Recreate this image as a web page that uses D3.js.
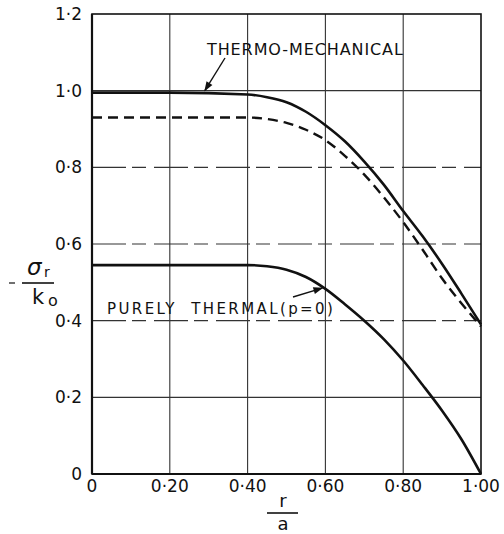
<!DOCTYPE html>
<html>
<head>
<meta charset="utf-8">
<script src="https://cdn.jsdelivr.net/npm/d3@7"></script>
<style>
  body { margin: 0; background: #fff; }
  svg { display: block; }
  text { font-family: "DejaVu Sans", "Liberation Sans", sans-serif; fill: #111; }
</style>
</head>
<body>
<div id="chart"></div>
<script>
// data
var yTicks = [0, 0.2, 0.4, 0.6, 0.8, 1.0, 1.2];
var yTickLabels = ["0", "0·2", "0·4", "0·6", "0·8", "1·0", "1·2"];
var xTicks = [0, 0.2, 0.4, 0.6, 0.8, 1.0];
var xTickLabels = ["0", "0·20", "0·40", "0·60", "0·80", "1·00"];

var rPoints = [0, 0.2, 0.4, 0.45, 0.5, 0.55, 0.6, 0.65, 0.7, 0.75, 0.8, 0.85, 0.9, 0.95, 1.0];
var thermoMech = [0.995, 0.995, 0.99, 0.983, 0.97, 0.945, 0.91, 0.868, 0.815, 0.755, 0.686, 0.62, 0.548, 0.47, 0.39];
var dashedCurve = [0.93, 0.93, 0.93, 0.926, 0.916, 0.898, 0.871, 0.83, 0.781, 0.722, 0.657, 0.585, 0.51, 0.445, 0.385];
var purelyThermal = [0.545, 0.545, 0.545, 0.542, 0.533, 0.514, 0.483, 0.443, 0.40, 0.352, 0.296, 0.232, 0.165, 0.09, 0.0];

var W = 504, H = 534;
var pLeft = 92, pRight = 481, pTop = 14, pBottom = 474;

var svg = d3.select("#chart").append("svg")
  .attr("width", W)
  .attr("height", H);

var x = d3.scaleLinear().domain([0, 1]).range([pLeft, pRight]);
var y = d3.scaleLinear().domain([0, 1.2]).range([pBottom, pTop]);

// grid
svg.selectAll(".vgrid")
  .data(xTicks.slice(1, -1))
  .enter().append("line")
  .attr("x1", function(d) { return x(d); })
  .attr("x2", function(d) { return x(d); })
  .attr("y1", pTop)
  .attr("y2", pBottom)
  .attr("stroke", "#333")
  .attr("stroke-width", 1.1);

svg.selectAll(".hgrid")
  .data(yTicks.slice(1, -1))
  .enter().append("line")
  .attr("x1", pLeft)
  .attr("x2", pRight)
  .attr("y1", function(d) { return y(d); })
  .attr("y2", function(d) { return y(d); })
  .attr("stroke", "#333")
  .attr("stroke-width", 1.1)
  .attr("stroke-dasharray", function(d) {
    return (d > 0.3 && d < 0.9) ? "34,6,14,8" : null;
  });

// frame
svg.append("rect")
  .attr("x", pLeft)
  .attr("y", pTop)
  .attr("width", pRight - pLeft)
  .attr("height", pBottom - pTop)
  .attr("fill", "none")
  .attr("stroke", "#111")
  .attr("stroke-width", 1.6);
svg.append("line")
  .attr("x1", pLeft).attr("x2", pLeft).attr("y1", pTop).attr("y2", pBottom)
  .attr("stroke", "#111").attr("stroke-width", 2.2);
svg.append("line")
  .attr("x1", pLeft).attr("x2", pRight).attr("y1", pBottom).attr("y2", pBottom)
  .attr("stroke", "#111").attr("stroke-width", 2.2);

// tick labels
svg.selectAll(".ylab")
  .data(yTicks)
  .enter().append("text")
  .attr("x", 82)
  .attr("y", function(d) { return y(d); })
  .attr("dy", "0.36em")
  .attr("text-anchor", "end")
  .style("font-size", "17px")
  .text(function(d, i) { return yTickLabels[i]; });

svg.selectAll(".xlab")
  .data(xTicks)
  .enter().append("text")
  .attr("x", function(d) { return x(d); })
  .attr("y", 492)
  .attr("text-anchor", "middle")
  .style("font-size", "17px")
  .text(function(d, i) { return xTickLabels[i]; });

// curves
var line = d3.line()
  .x(function(d) { return x(d[0]); })
  .y(function(d) { return y(d[1]); })
  .curve(d3.curveMonotoneX);

svg.append("path")
  .datum(d3.zip(rPoints, thermoMech))
  .attr("d", line)
  .attr("fill", "none")
  .attr("stroke", "#111")
  .attr("stroke-width", 2.6);

svg.append("path")
  .datum(d3.zip(rPoints, dashedCurve))
  .attr("d", line)
  .attr("fill", "none")
  .attr("stroke", "#111")
  .attr("stroke-width", 2.4)
  .attr("stroke-dasharray", "10,6");

svg.append("path")
  .datum(d3.zip(rPoints, purelyThermal))
  .attr("d", line)
  .attr("fill", "none")
  .attr("stroke", "#111")
  .attr("stroke-width", 2.6);

// annotations
svg.append("defs").append("marker")
  .attr("id", "arrow")
  .attr("viewBox", "0 0 10 10")
  .attr("refX", 9).attr("refY", 5)
  .attr("markerWidth", 9).attr("markerHeight", 7)
  .attr("orient", "auto")
  .append("path")
  .attr("d", "M0,1.5 L10,5 L0,8.5 Z")
  .attr("fill", "#111");

svg.append("text")
  .attr("x", 207)
  .attr("y", 55)
  .style("font-size", "16px")
  .style("letter-spacing", "0.9px")
  .text("THERMO-MECHANICAL");
svg.append("line")
  .attr("x1", 225).attr("y1", 58)
  .attr("x2", x(0.29)).attr("y2", y(0.995) - 2)
  .attr("stroke", "#111").attr("stroke-width", 1.4)
  .attr("marker-end", "url(#arrow)");

svg.append("text")
  .attr("x", 107)
  .attr("y", 314)
  .style("font-size", "15px")
  .style("letter-spacing", "2.4px")
  .attr("xml:space", "preserve")
  .text("PURELY  THERMAL(p=0)");
svg.append("line")
  .attr("x1", 293).attr("y1", 297)
  .attr("x2", x(0.592)).attr("y2", y(0.485))
  .attr("stroke", "#111").attr("stroke-width", 1.4)
  .attr("marker-end", "url(#arrow)");

// axis titles as fractions
var yt = svg.append("g");
yt.append("line").attr("x1", 9).attr("x2", 15).attr("y1", 283).attr("y2", 283)
  .attr("stroke", "#111").attr("stroke-width", 1.2);
yt.append("line").attr("x1", 22).attr("x2", 54).attr("y1", 283).attr("y2", 283)
  .attr("stroke", "#111").attr("stroke-width", 1.6);
yt.append("text").attr("x", 27).attr("y", 275)
  .style("font-size", "23px").style("font-style", "italic").text("σ");
yt.append("text").attr("x", 44).attr("y", 277)
  .style("font-size", "14px").text("r");
yt.append("text").attr("x", 32).attr("y", 304)
  .style("font-size", "21px").text("k");
yt.append("text").attr("x", 48).attr("y", 306)
  .style("font-size", "16px").text("o");

var xt = svg.append("g");
xt.append("text").attr("x", 283).attr("y", 507)
  .attr("text-anchor", "middle").style("font-size", "18px").text("r");
xt.append("line").attr("x1", 267).attr("x2", 298).attr("y1", 513).attr("y2", 513)
  .attr("stroke", "#111").attr("stroke-width", 1.6);
xt.append("text").attr("x", 283).attr("y", 530)
  .attr("text-anchor", "middle").style("font-size", "18px").text("a");
</script>
</body>
</html>
